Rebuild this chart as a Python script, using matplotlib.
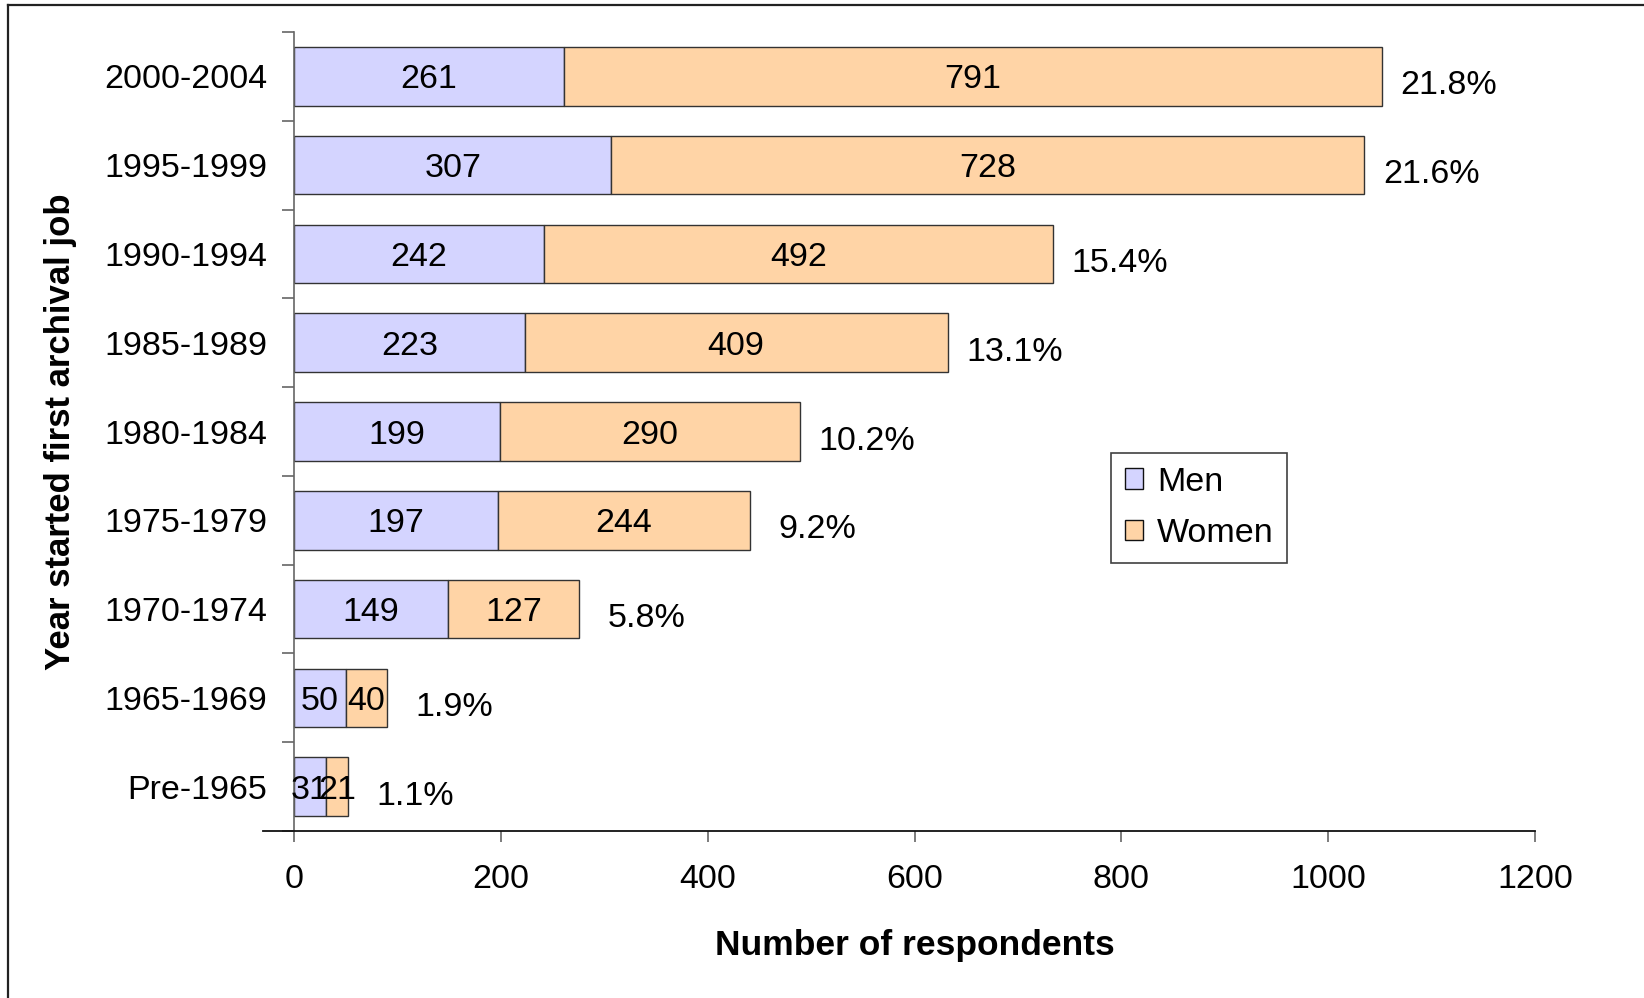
import matplotlib
matplotlib.use("Agg")
import matplotlib.pyplot as plt
from matplotlib.lines import Line2D
import numpy as np

plt.rcParams['font.family'] = ['Liberation Sans', 'DejaVu Sans']

categories = ["Pre-1965", "1965-1969", "1970-1974", "1975-1979", "1980-1984",
              "1985-1989", "1990-1994", "1995-1999", "2000-2004"]
men = [31, 50, 149, 197, 199, 223, 242, 307, 261]
women = [21, 40, 127, 244, 290, 409, 492, 728, 791]
percent = ["1.1%", "1.9%", "5.8%", "9.2%", "10.2%", "13.1%", "15.4%", "21.6%", "21.8%"]
xticks = [0, 200, 400, 600, 800, 1000, 1200]

men_color = "#D4D4FF"
women_color = "#FFD4A6"
edge = "#333333"
fs = 24.5

W, H = 1644, 998
fig = plt.figure(figsize=(W / 100, H / 100), dpi=100)
ax = fig.add_axes([294 / W, 1 - 831 / H, (1535 - 294) / W, (831 - 32) / H])

y = np.arange(len(categories))
bh = 0.66
b1 = ax.barh(y, men, height=bh, color=men_color, edgecolor=edge, linewidth=1.0, label="Men")
b2 = ax.barh(y, women, left=men, height=bh, color=women_color, edgecolor=edge, linewidth=1.0, label="Women")

for i in range(len(categories)):
    ax.text(men[i] / 2, y[i], str(men[i]), ha="center", va="center_baseline", fontsize=fs)
    ax.text(men[i] + women[i] / 2, y[i], str(women[i]), ha="center", va="center_baseline", fontsize=fs)
    total = men[i] + women[i]
    ax.annotate(percent[i], (total, y[i]), xytext=(67, -6), textcoords="offset pixels",
                ha="center", va="center_baseline", fontsize=fs)

ax.set_xlim(0, 1200)
ax.set_ylim(-0.5, len(categories) - 0.5)
ax.set_xticks(xticks)
ax.set_xticklabels([str(v) for v in xticks], fontsize=fs)
ax.set_yticks(y)
ax.set_yticklabels(categories, fontsize=fs)
ax.set_yticks(np.arange(-0.5, len(categories), 1.0), minor=True)
ax.tick_params(axis="y", which="major", length=0, pad=19)
ax.tick_params(axis="y", which="minor", length=8.5, width=1.2, color="#666666", direction="out")
ax.tick_params(axis="x", which="major", length=8, width=1.2, color="#666666", direction="out", pad=16)

for s in ["top", "right"]:
    ax.spines[s].set_visible(False)
ax.spines["left"].set_color("#666666")
ax.spines["left"].set_linewidth(1.2)
ax.spines["bottom"].set_color("#111111")
ax.spines["bottom"].set_linewidth(1.3)
ax.spines["bottom"].set_bounds(-30, 1200)

ax.set_xlabel("Number of respondents", fontsize=25.5, fontweight="bold", labelpad=24)
ax.set_ylabel("Year started first archival job", fontsize=25, fontweight="bold", labelpad=20)

leg = fig.legend(handles=[b1, b2], loc="upper left", bbox_to_anchor=(1111 / W, 1 - 453 / H),
                 bbox_transform=fig.transFigure, fontsize=fs, frameon=True, fancybox=False,
                 handlelength=0.55, handleheight=0.55, handletextpad=0.4, borderpad=0.4,
                 borderaxespad=0, labelspacing=0.6)
leg._legend_box.sep = 0
leg.get_frame().set_edgecolor("#111111")
leg.get_frame().set_linewidth(1.2)
for h in leg.legend_handles:
    h.set_edgecolor("#111111")

# outer chart border (left and top edges visible)
fig.add_artist(Line2D([7.5 / W, 7.5 / W], [0, 1 - 5 / H], transform=fig.transFigure,
                      color="#222222", linewidth=1.6))
fig.add_artist(Line2D([7.5 / W, 1], [1 - 5 / H, 1 - 5 / H], transform=fig.transFigure,
                      color="#222222", linewidth=1.6))

fig.savefig("out.png", dpi=100, facecolor="white")
